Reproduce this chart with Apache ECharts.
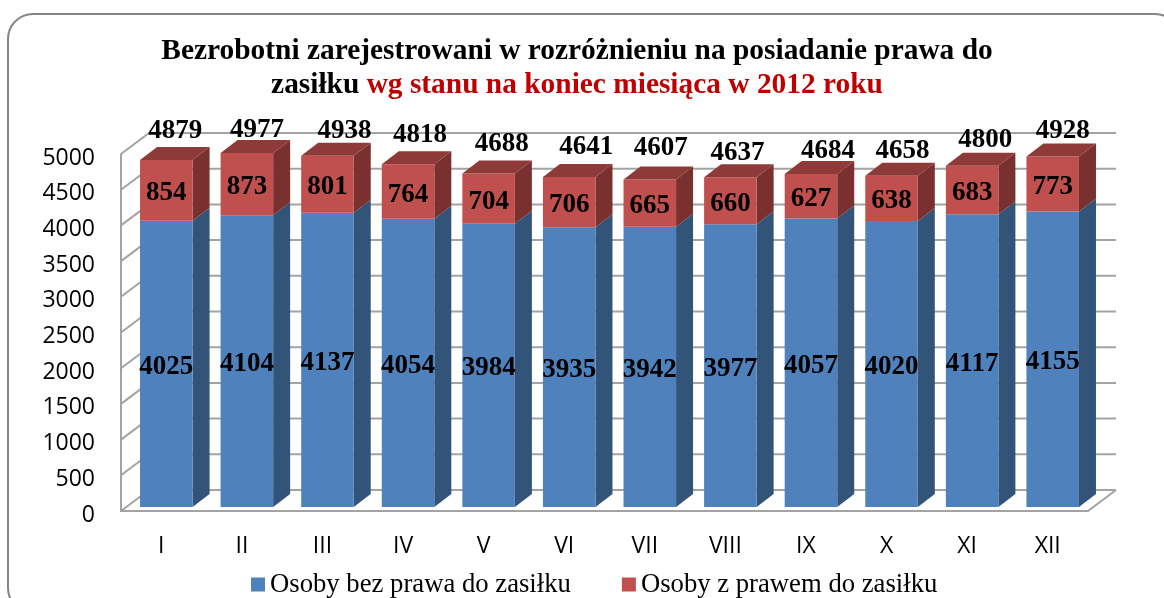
<!DOCTYPE html>
<html><head><meta charset="utf-8">
<style>html,body{margin:0;padding:0;background:#fff}#c{width:1164px;height:598px}</style>
<script src="https://cdn.jsdelivr.net/npm/echarts@6/dist/echarts.min.js"></script>
</head><body><div id="c"></div>
<script>
const months = ['I','II','III','IV','V','VI','VII','VIII','IX','X','XI','XII'];
const withoutBenefit = [4025,4104,4137,4054,3984,3935,3942,3977,4057,4020,4117,4155];
const withBenefit = [854,873,801,764,704,706,665,660,627,638,683,773];
const totals = [4879,4977,4938,4818,4688,4641,4607,4637,4684,4658,4800,4928];
const yTicks = [0,500,1000,1500,2000,2500,3000,3500,4000,4500,5000];
const seriesNames = ['Osoby bez prawa do zasiłku','Osoby z prawem do zasiłku'];
// hand-placed nudges of the total labels, as in the reference
const totalNudgeX = [-1,0,7,2,3,7,1,-3,7,1,3,0];
const totalNudgeY = [1,7,5,1,0,0,-1,6,7,5,4,4];

const WALL_DX = 28, WALL_DY = -21;
const BAR_OFF_X = 5, BAR_OFF_Y = -4, DEPTH_X = 17, DEPTH_Y = -13, BAR_SCALE = 0.996;
const GRID_COL = '#a3a3a3';
const SERIF = '"Liberation Serif"';

function wallItem(params, api) {
  const v = api.value(0);
  const cs = params.coordSys;
  const y = api.coord([0, v])[1];
  const x0 = cs.x, x1 = cs.x + cs.width;
  const style = { stroke: GRID_COL, lineWidth: 2, fill: null };
  const kids = [
    { type:'line', shape:{x1:x0, y1:y, x2:x0+WALL_DX, y2:y+WALL_DY}, style },
    { type:'line', shape:{x1:x0+WALL_DX, y1:y+WALL_DY, x2:x1+WALL_DX, y2:y+WALL_DY}, style }
  ];
  if (v === 0) kids.push({ type:'line', shape:{x1:x1, y1:y, x2:x1+WALL_DX, y2:y+WALL_DY}, style });
  return { type:'group', children:kids };
}

function barItem(front, side, top) {
  return function(params, api) {
    const idx = api.value(0), lo = api.value(1), hi = api.value(2);
    const w = api.size([1,0])[0] * 0.652;
    const y0 = api.coord([idx, 0])[1];
    const pLo = api.coord([idx, lo]), pHi = api.coord([idx, hi]);
    const xl = pLo[0] - w/2 + BAR_OFF_X, xr = xl + w;
    const yb = y0 + (pLo[1]-y0)*BAR_SCALE + BAR_OFF_Y, yt = y0 + (pHi[1]-y0)*BAR_SCALE + BAR_OFF_Y;
    const kids = [
      { type:'polygon', shape:{points:[[xr,yb],[xr+DEPTH_X,yb+DEPTH_Y],[xr+DEPTH_X,yt+DEPTH_Y],[xr,yt]]}, style:{fill:side} },
      { type:'rect', shape:{x:xl,y:yt,width:w,height:yb-yt}, style:{fill:front} }
    ];
    if (top) kids.push({ type:'polygon', shape:{points:[[xl,yt],[xl+DEPTH_X,yt+DEPTH_Y],[xr+DEPTH_X,yt+DEPTH_Y],[xr,yt]]}, style:{fill:top} });
    kids.push({ type:'text', style:{ text:String(hi-lo), x:(xl+xr)/2, y:(yb+yt)/2+3, align:'center', verticalAlign:'middle',
      font:'bold 27px '+SERIF, fill:'#000' } });
    if (top) kids.push({ type:'text', style:{ text:String(api.value(3)), x:(xl+xr)/2+10+totalNudgeX[idx], y:yt-30+totalNudgeY[idx], align:'center', verticalAlign:'middle',
      font:'bold 27px '+SERIF, fill:'#000' } });
    return { type:'group', children:kids };
  };
}

const chart = echarts.init(document.getElementById('c'), null, {renderer:'canvas'});
chart.setOption({
  animation:false,
  backgroundColor:'#fff',
  graphic:[{ type:'rect', z:-10, shape:{x:8,y:14,width:1172,height:599,r:25}, style:{fill:'#fff', stroke:'#858585', lineWidth:2} }],
  title:{
    left:577, top:34, textAlign:'center', padding:0,
    text:'{b|Bezrobotni zarejestrowani w rozróżnieniu na posiadanie prawa do}\n{b|zasiłku }{r|wg stanu na koniec miesiąca w 2012 roku}',
    textStyle:{ rich:{
      b:{ fontFamily:SERIF, fontWeight:'bold', fontSize:29.4, color:'#000', lineHeight:34 },
      r:{ fontFamily:SERIF, fontWeight:'bold', fontSize:29.4, color:'#c00000', lineHeight:34 }
    } }
  },
  legend:{
    left:251, top:571, padding:0, itemWidth:14, itemHeight:14, itemGap:51,
    icon:'rect',
    textStyle:{ fontFamily:SERIF, fontSize:26.7, color:'#000' },
    data:seriesNames
  },
  grid:{ left:121, right:76, top:154, bottom:87 },
  xAxis:{ type:'category', data:months, axisTick:{show:false},
    axisLine:{lineStyle:{color:GRID_COL,width:2}},
    axisLabel:{ margin:24, fontFamily:'"Open Sans"', fontSize:23, color:'#000', interval:0 } },
  yAxis:{ type:'value', min:0, max:5000, interval:500, splitLine:{show:false}, axisTick:{show:false},
    axisLine:{show:true,lineStyle:{color:GRID_COL,width:2}},
    axisLabel:{ margin:26, color:'#000', formatter:v=>'{a|'+v+'}',
      rich:{ a:{ fontFamily:'"Open Sans"', fontSize:23, color:'#000', padding:[8,0,0,0] } } } },
  series:[
    { type:'custom', silent:true, z:1, renderItem:wallItem, data:yTicks.map(v=>[v]), encode:{y:0}, tooltip:{show:false} },
    { type:'custom', name:seriesNames[0], z:2, itemStyle:{color:'#4f81bd'}, renderItem:barItem('#4f81bd','#335479',null),
      encode:{x:0,y:2}, data:months.map((m,i)=>[i,0,withoutBenefit[i]]) },
    { type:'custom', name:seriesNames[1], z:3, itemStyle:{color:'#c0504d'}, renderItem:barItem('#c0504d','#7a302e','#8e3a38'),
      encode:{x:0,y:2}, data:months.map((m,i)=>[i,withoutBenefit[i],totals[i],totals[i]]) }
  ]
});
</script></body></html>
